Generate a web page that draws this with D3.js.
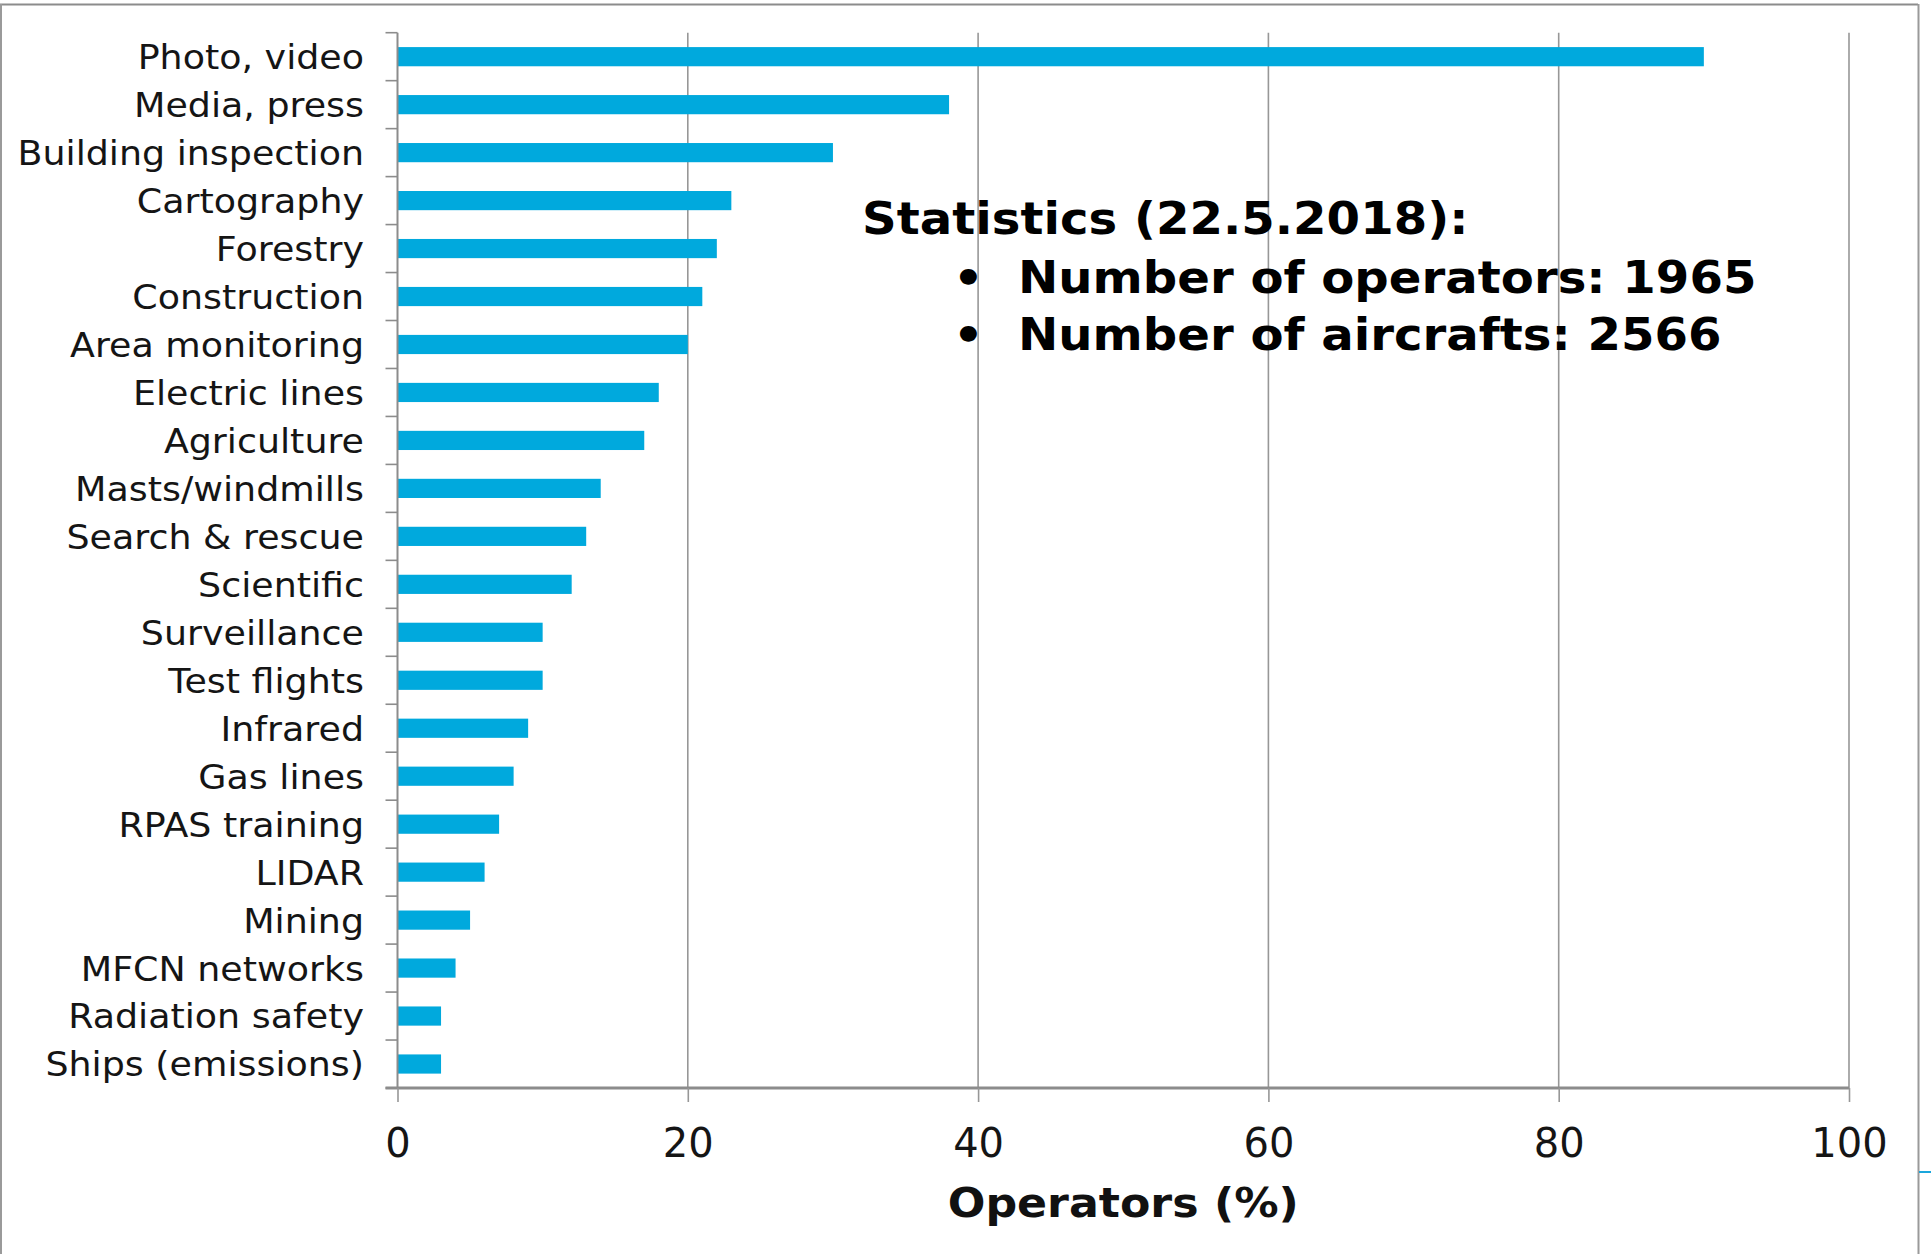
<!DOCTYPE html>
<html>
<head>
<meta charset="utf-8">
<script src="https://cdn.jsdelivr.net/npm/d3@7/dist/d3.min.js"></script>
<style>
  html, body { margin: 0; padding: 0; background: #fff; }
  svg { display: block; }
</style>
</head>
<body>
<svg id="chart" width="1931" height="1254"></svg>
<script>
const categories = [
  "Photo, video", "Media, press", "Building inspection", "Cartography", "Forestry",
  "Construction", "Area monitoring", "Electric lines", "Agriculture", "Masts/windmills",
  "Search & rescue", "Scientific", "Surveillance", "Test flights", "Infrared",
  "Gas lines", "RPAS training", "LIDAR", "Mining", "MFCN networks",
  "Radiation safety", "Ships (emissions)"
];
const values = [90, 38, 30, 23, 22, 21, 20, 18, 17, 14, 13, 12, 10, 10, 9, 8, 7, 6, 5, 4, 3, 3];
const xTicks = [0, 20, 40, 60, 80, 100];
const xTitle = "Operators (%)";
const statsTitle = "Statistics (22.5.2018):";
const statsLines = ["Number of operators: 1965", "Number of aircrafts: 2566"];

(function () {
const data = categories.map((c, i) => ({ cat: c, val: values[i] }));

const svg = d3.select("#chart");
const W = 1931, H = 1254;
const mLeft = 397.5, mRight = 1849, mTop = 32.7, mBottom = 1088;
const FONT = "'DejaVu Sans', Verdana, sans-serif";

const x = d3.scaleLinear().domain([0, 100]).range([mLeft, mRight]);
const y = d3.scaleBand().domain(categories).range([mTop, mBottom]).paddingInner(0.6).paddingOuter(0.3);

// frame
svg.append("line").attr("x1", 0).attr("x2", 1918).attr("y1", 4.5).attr("y2", 4.5).attr("stroke", "#8c8c8c").attr("stroke-width", 2);
svg.append("line").attr("x1", 1).attr("x2", 1).attr("y1", 4).attr("y2", H).attr("stroke", "#9a9a9a").attr("stroke-width", 2);
svg.append("line").attr("x1", 1918.5).attr("x2", 1918.5).attr("y1", 4).attr("y2", H).attr("stroke", "#9a9a9a").attr("stroke-width", 2);
svg.append("line").attr("x1", 1919).attr("x2", W).attr("y1", 1172).attr("y2", 1172).attr("stroke", "#1aa6dc").attr("stroke-width", 2);

// gridlines
svg.append("g").selectAll("line").data(xTicks.filter(t => t > 0)).join("line")
  .attr("x1", d => x(d)).attr("x2", d => x(d))
  .attr("y1", mTop).attr("y2", mBottom)
  .attr("stroke", "#979797").attr("stroke-width", 1.6);

// bars
svg.append("g").selectAll("rect").data(data).join("rect")
  .attr("x", x(0))
  .attr("y", d => y(d.cat))
  .attr("width", d => x(d.val) - x(0))
  .attr("height", y.bandwidth())
  .attr("fill", "#00a9dd");

// y axis (labels)
const labSX = 1.055, labPad = 33.5;
const yAxis = svg.append("g").attr("transform", `translate(${mLeft},0)`)
  .call(d3.axisLeft(y).tickSize(0).tickPadding(labPad));
yAxis.select(".domain").remove();
yAxis.selectAll("text")
  .attr("font-family", FONT)
  .attr("font-size", 34.5)
  .attr("fill", "#151515")
  .attr("dy", "0.36em")
  .attr("x", -labPad / labSX)
  .attr("transform", `scale(${labSX},1)`);

// y axis line and boundary ticks
const boundaries = categories.map(c => y(c) - y.paddingInner() * y.step() / 2).concat([mBottom]);
svg.append("line").attr("x1", mLeft).attr("x2", mLeft).attr("y1", mTop).attr("y2", mBottom)
  .attr("stroke", "#8c8c8c").attr("stroke-width", 2);
svg.append("g").selectAll("line").data(boundaries).join("line")
  .attr("x1", mLeft - 12).attr("x2", mLeft)
  .attr("y1", d => d).attr("y2", d => d)
  .attr("stroke", "#8c8c8c").attr("stroke-width", 1.6);

// x axis
const xAxis = svg.append("g").attr("transform", `translate(0,${mBottom})`)
  .call(d3.axisBottom(x).tickValues(xTicks).tickSize(14).tickPadding(27).tickFormat(d3.format("d")));
xAxis.select(".domain").attr("d", `M${mLeft - 12},0H${mRight}`).attr("stroke", "#8c8c8c").attr("stroke-width", 3);
xAxis.selectAll(".tick line").attr("stroke", "#979797").attr("stroke-width", 1.6);
xAxis.selectAll("text")
  .attr("font-family", FONT)
  .attr("font-size", 40)
  .attr("fill", "#151515");

// x title
svg.append("text")
  .attr("transform", `translate(${(x(0) + x(100)) / 2},1217) scale(1.08,1)`)
  .attr("text-anchor", "middle")
  .attr("font-family", FONT)
  .attr("font-weight", "bold")
  .attr("font-size", 41)
  .attr("fill", "#111")
  .text(xTitle);

// statistics annotation
const stSX = 1.095, stSize = 44;
svg.append("text")
  .attr("transform", `translate(862,234) scale(${stSX},1)`)
  .attr("font-family", FONT).attr("font-weight", "bold").attr("font-size", stSize)
  .attr("fill", "#000")
  .text(statsTitle);
const lineY = [292.5, 349.5];
statsLines.forEach((t, i) => {
  svg.append("text").attr("transform", `translate(953,${lineY[i]}) scale(${stSX},1)`)
    .attr("font-family", FONT).attr("font-weight", "bold").attr("font-size", stSize)
    .attr("fill", "#000").text("\u2022");
  svg.append("text").attr("transform", `translate(1018,${lineY[i]}) scale(${stSX},1)`)
    .attr("font-family", FONT).attr("font-weight", "bold").attr("font-size", stSize)
    .attr("fill", "#000").text(t);
});
})();
</script>
</body>
</html>
